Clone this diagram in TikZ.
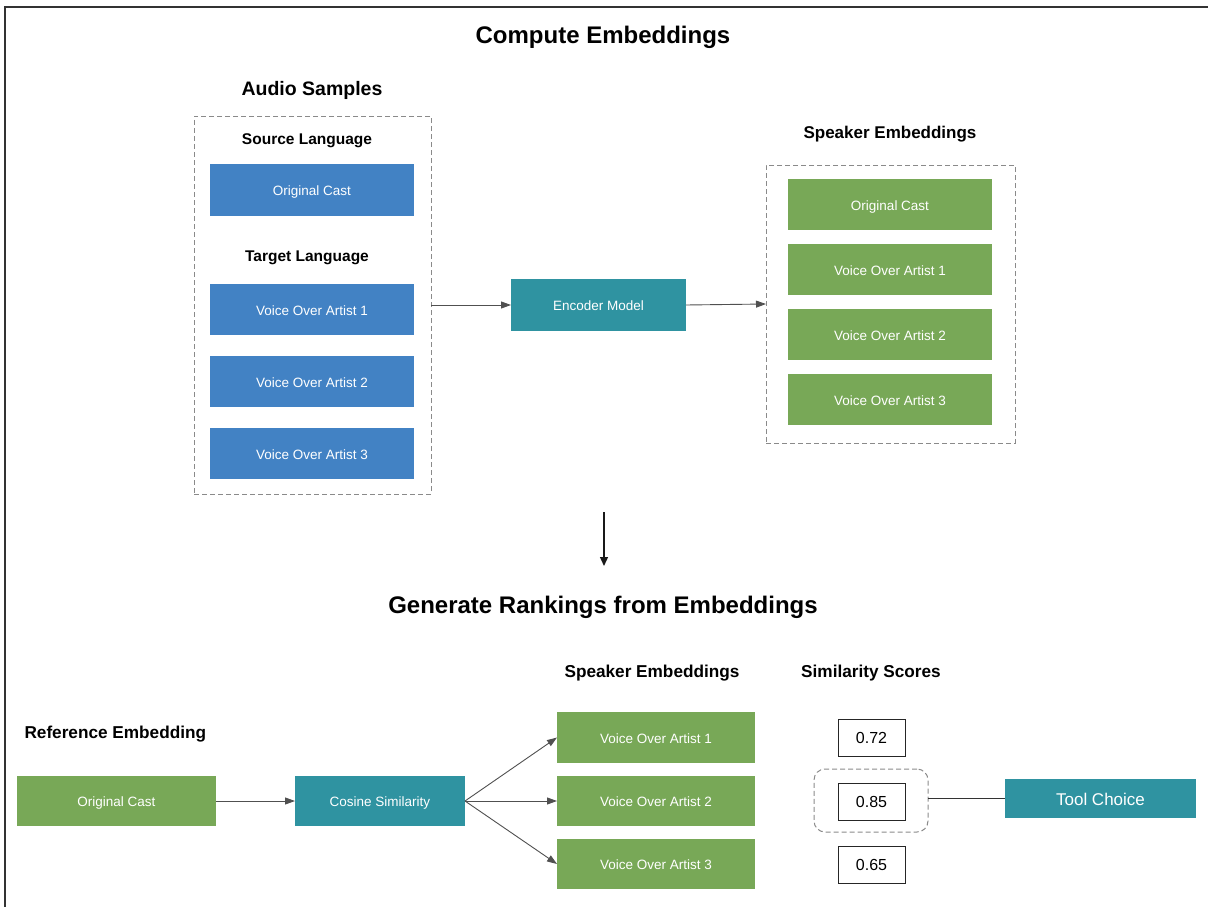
\documentclass[tikz,border=0pt]{standalone}
\usepackage{fontspec}
\setmainfont{Liberation Sans}
\usetikzlibrary{arrows.meta}
\definecolor{bluefill}{HTML}{4282C4}
\definecolor{greenfill}{HTML}{78A857}
\definecolor{tealfill}{HTML}{2F93A1}
\definecolor{dashgray}{HTML}{8A8A8A}
\definecolor{arrowgray}{HTML}{505050}
\tikzset{
  box/.style={inner sep=0pt, outer sep=0pt, text=white, font=\fontsize{13.5}{16}\selectfont, text height=11pt, text depth=0pt},
  bluebox/.style={box, fill=bluefill, minimum width=204pt, minimum height=51pt},
  greenbox/.style={box, fill=greenfill, minimum width=204pt, minimum height=51pt},
  lgreenbox/.style={box, fill=greenfill, minimum width=198pt, minimum height=50pt},
  tealbox/.style={box, fill=tealfill},
  groupbox/.style={draw=dashgray, line width=1pt, inner sep=0pt, outer sep=0pt, dash pattern=on 5pt off 3pt},
  scorebox/.style={draw=black!85, line width=1pt, inner sep=0pt, outer sep=0pt, minimum width=67pt, minimum height=37pt, font=\fontsize{16}{18}\selectfont},
  bigtitle/.style={font=\bfseries\fontsize{24}{28}\selectfont},
  heading/.style={font=\bfseries\fontsize{17.2}{20}\selectfont},
  subheading/.style={font=\bfseries\fontsize{15.5}{18}\selectfont},
  conn/.style={draw=arrowgray, line width=0.9pt, -{Triangle[length=10pt,width=7pt]}},
}
\begin{document}
\begin{tikzpicture}[x=1pt,y=-1pt]
\useasboundingbox (0,0) rectangle (1208,907);
\draw[line width=2pt, black!80] (5,907) -- (5,7) -- (1208,7);

% ---------- Compute Embeddings ----------
\node[bigtitle] (t1) at (603,37) {Compute Embeddings};
\node[heading, font=\bfseries\fontsize{19.5}{23}\selectfont] (audio) at (312,90) {Audio Samples};
\node[groupbox, minimum width=237pt, minimum height=378pt] (lbox) at (312.5,305) {};
\node[subheading] (src) at (307,141) {Source Language};
\node[bluebox, minimum height=52pt] (boc) at (312,190) {Original Cast};
\node[subheading] (tgt) at (307,258) {Target Language};
\node[bluebox] (b1) at (312,309.5) {Voice Over Artist 1};
\node[bluebox] (b2) at (312,381.5) {Voice Over Artist 2};
\node[bluebox] (b3) at (312,453.5) {Voice Over Artist 3};

\node[tealbox, minimum width=175pt, minimum height=52pt] (enc) at (598.5,305) {Encoder Model};

\node[heading, font=\bfseries\fontsize{17}{20}\selectfont] (spk1) at (890,134) {Speaker Embeddings};
\node[groupbox, minimum width=249pt, minimum height=278pt] (rbox) at (890.5,304) {};
\node[greenbox] (goc) at (890,204.5) {Original Cast};
\node[greenbox] (g1) at (890,269.5) {Voice Over Artist 1};
\node[greenbox] (g2) at (890,334.5) {Voice Over Artist 2};
\node[greenbox] (g3) at (890,399.5) {Voice Over Artist 3};

\draw[conn] (lbox.east |- enc.west) -- (enc.west);
\draw[conn] (enc.east) -- (rbox.west);

\coordinate (vtop) at (604,512);
\coordinate (vbot) at (604,566);
\draw[line width=1.3pt, black!90, -{Triangle[length=9pt,width=8pt]}] (vtop) -- (vbot);

% ---------- Generate Rankings ----------
\node[bigtitle] (t2) at (603,607) {Generate Rankings from Embeddings};

\node[heading, anchor=west] (refh) at (21,734) {Reference Embedding};
\node[lgreenbox, minimum width=199pt] (roc) at (116.5,801) {Original Cast};
\node[tealbox, minimum width=170pt, minimum height=50pt] (cos) at (380,801) {Cosine Similarity};
\draw[conn] (roc) -- (cos);

\node[heading] (spk2) at (652,673) {Speaker Embeddings};
\node[lgreenbox, minimum height=51pt] (s1) at (656,737.5) {Voice Over Artist 1};
\node[lgreenbox] (s2) at (656,801) {Voice Over Artist 2};
\node[lgreenbox] (s3) at (656,864) {Voice Over Artist 3};
\draw[conn] (cos.east) -- (s1.west);
\draw[conn] (cos.east) -- (s2.west);
\draw[conn] (cos.east) -- (s3.west);

\node[heading] (simh) at (871,673) {Similarity Scores};
\node[scorebox] (sc1) at (871.5,737.5) {0.72};
\node[scorebox] (sc2) at (871.5,801.5) {0.85};
\node[scorebox] (sc3) at (871.5,864.5) {0.65};
\node[groupbox, rounded corners=11pt, minimum width=114pt, minimum height=63pt] (sel) at (871,800.5) {};

\node[tealbox, minimum width=191pt, minimum height=39pt, font=\fontsize{17}{20}\selectfont, text height=13pt, text depth=0pt] (tool) at (1100.5,798.5) {Tool Choice};
\draw[line width=1.1pt, black!80] (sel.east |- tool.west) -- (tool.west);
\end{tikzpicture}
\end{document}
